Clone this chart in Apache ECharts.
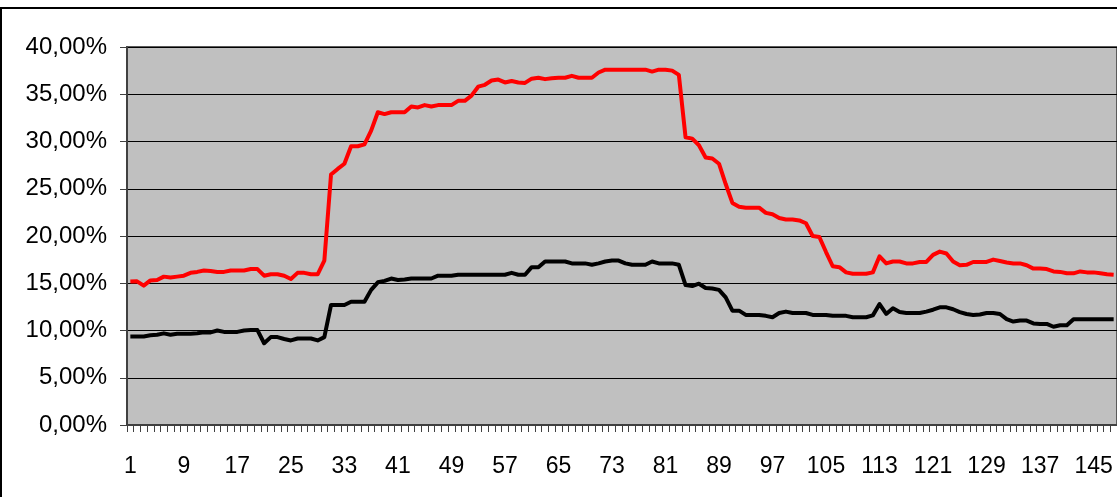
<!DOCTYPE html>
<html>
<head>
<meta charset="utf-8">
<script src="https://cdn.jsdelivr.net/npm/echarts@6/dist/echarts.min.js"></script>
<style>
  html, body { margin: 0; padding: 0; background: #fff; }
  #chart { width: 1117px; height: 497px; }
</style>
</head>
<body>
<div id="chart"></div>
<script>
// red series (percent)
var redValues = [
  15.18, 15.2, 14.75, 15.3, 15.35, 15.7, 15.6, 15.7, 15.8, 16.1,
  16.2, 16.35, 16.3, 16.2, 16.2, 16.35, 16.35, 16.35, 16.5, 16.5,
  15.8, 15.95, 15.95, 15.8, 15.45, 16.1, 16.1, 15.95, 15.95, 17.4,
  26.5, 27.1, 27.65, 29.5, 29.5, 29.7, 31.15, 33.1, 32.9, 33.1,
  33.1, 33.1, 33.7, 33.6, 33.85, 33.7, 33.85, 33.85, 33.85, 34.3,
  34.3, 34.85, 35.8, 36.0, 36.45, 36.55, 36.25, 36.4, 36.25, 36.2,
  36.65, 36.75, 36.6, 36.7, 36.75, 36.75, 36.95, 36.75, 36.75, 36.75,
  37.3, 37.6, 37.6, 37.6, 37.6, 37.6, 37.6, 37.6, 37.4, 37.6,
  37.6, 37.5, 37.05, 30.45, 30.3, 29.6, 28.3, 28.2, 27.65, 25.5,
  23.5, 23.1, 23.0, 23.0, 23.0, 22.45, 22.3, 21.9, 21.75, 21.75,
  21.65, 21.35, 20.0, 19.9, 18.3, 16.8, 16.7, 16.15, 16.0, 16.0,
  16.0, 16.15, 17.85, 17.1, 17.3, 17.3, 17.1, 17.1, 17.25, 17.25,
  18.0, 18.35, 18.15, 17.3, 16.9, 16.95, 17.25, 17.25, 17.25, 17.5,
  17.35, 17.2, 17.1, 17.1, 16.9, 16.55, 16.55, 16.5, 16.25, 16.2,
  16.05, 16.05, 16.25, 16.15, 16.15, 16.05, 15.95, 15.9
];
// black series (percent)
var blackValues = [
  9.37, 9.37, 9.37, 9.5, 9.55, 9.7, 9.55, 9.65, 9.65, 9.65,
  9.7, 9.8, 9.8, 10.0, 9.85, 9.85, 9.85, 10.0, 10.05, 10.05,
  8.65, 9.3, 9.3, 9.1, 8.95, 9.15, 9.15, 9.15, 8.95, 9.3,
  12.7, 12.7, 12.7, 13.05, 13.05, 13.05, 14.3, 15.1, 15.25, 15.5,
  15.35, 15.4, 15.5, 15.5, 15.5, 15.5, 15.8, 15.8, 15.8, 15.9,
  15.9, 15.9, 15.9, 15.9, 15.9, 15.9, 15.9, 16.1, 15.9, 15.9,
  16.7, 16.7, 17.3, 17.3, 17.3, 17.3, 17.1, 17.1, 17.1, 16.95,
  17.1, 17.3, 17.4, 17.4, 17.1, 16.95, 16.95, 16.95, 17.3, 17.1,
  17.1, 17.1, 16.95, 14.8, 14.7, 14.95, 14.5, 14.45, 14.3, 13.5,
  12.1, 12.1, 11.65, 11.65, 11.65, 11.55, 11.4, 11.85, 12.0, 11.85,
  11.85, 11.85, 11.65, 11.65, 11.65, 11.55, 11.55, 11.55, 11.4, 11.4,
  11.4, 11.6, 12.8, 11.75, 12.35, 11.95, 11.85, 11.85, 11.85, 12.0,
  12.2, 12.45, 12.45, 12.25, 11.95, 11.75, 11.65, 11.7, 11.85, 11.85,
  11.75, 11.2, 10.95, 11.05, 11.05, 10.75, 10.7, 10.7, 10.4, 10.55,
  10.55, 11.2, 11.2, 11.2, 11.2, 11.2, 11.2, 11.2
];
// x categories 1..148
var categories = [];
for (var i = 1; i <= redValues.length; i++) categories.push(String(i));

var chart = echarts.init(document.getElementById('chart'));

var option = {
  animation: false,
  backgroundColor: '#fff',
  graphic: [{
    type: 'rect',
    shape: { x: 1, y: 8, width: 1140, height: 520 },
    style: { fill: 'none', stroke: '#000', lineWidth: 2 },
    silent: true
  }],
  grid: {
    left: 127,
    top: 47,
    width: 991.6,
    height: 378,
    show: true,
    backgroundColor: '#c0c0c0',
    borderColor: '#5a5a5a',
    borderWidth: 2
  },
  xAxis: {
    type: 'category',
    data: categories,
    boundaryGap: true,
    axisLine: { show: true, lineStyle: { color: '#404040', width: 2 } },
    axisTick: { show: true, interval: 0, length: 7, alignWithLabel: false, lineStyle: { color: '#404040', width: 1 } },
    axisLabel: {
      interval: 7,
      margin: 30,
      color: '#000',
      fontFamily: 'Liberation Sans, Arial, sans-serif',
      fontSize: 23
    },
    splitLine: { show: false }
  },
  yAxis: {
    type: 'value',
    min: 0,
    max: 40,
    interval: 5,
    axisLine: { show: true, lineStyle: { color: '#404040', width: 2 } },
    axisTick: { show: true, length: 7, lineStyle: { color: '#404040', width: 1 } },
    axisLabel: {
      margin: 20,
      color: '#000',
      fontFamily: 'Liberation Sans, Arial, sans-serif',
      fontSize: 24,
      formatter: function (v) { return v.toFixed(2).replace('.', ',') + '%'; }
    },
    splitLine: { show: true, lineStyle: { color: '#000', width: 1.2 } }
  },
  series: [
    {
      name: 'red',
      type: 'line',
      data: redValues,
      symbol: 'none',
      smooth: false,
      lineStyle: { color: '#ff0000', width: 4, join: 'round' },
      z: 3
    },
    {
      name: 'black',
      type: 'line',
      data: blackValues,
      symbol: 'none',
      smooth: false,
      lineStyle: { color: '#000000', width: 4, join: 'round' },
      z: 4
    }
  ]
};

chart.setOption(option);
</script>
</body>
</html>
